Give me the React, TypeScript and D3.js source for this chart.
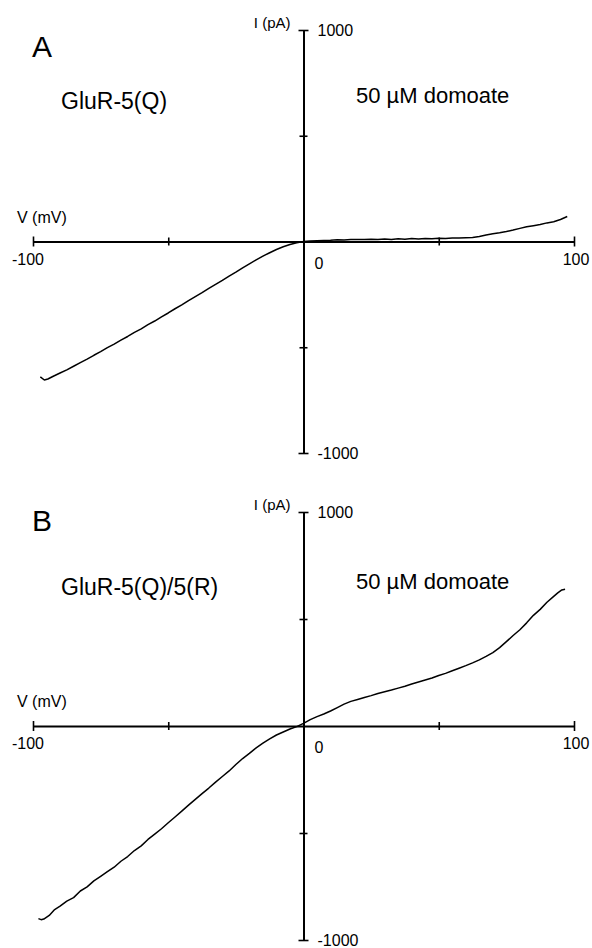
import React, { useEffect, useRef } from "react";
import * as d3 from "d3";

// membrane potential (mV) and current (pA)
const voltageA = [
  -97.3, -95.8, -94.5, -92.5, -90, -87.5, -85, -82.5, -80, -77.5, -75, -72.5, -70, -67.5, -65,
  -62.5, -60, -57.5, -55, -52.5, -50, -47.5, -45, -42.5, -40, -37.5, -35, -32.5, -30, -27.5,
  -25, -22.5, -20, -17.5, -15, -12.5, -10, -7.5, -5, -2.5, 0, 2.5, 5, 7.5, 10, 12.5, 15, 17.5,
  20, 22.5, 25, 27.5, 30, 32.5, 35, 37.5, 40, 42.5, 45, 47.5, 50, 52.5, 55, 57.5, 60, 62.5, 65,
  67.5, 70, 72.5, 75, 77.5, 80, 82.5, 85, 87.5, 90, 92.5, 95, 97.5,
];
const currentA = [
  -640, -655, -650, -637, -622, -607, -590, -573, -556, -538, -521, -502, -485, -466, -449,
  -430, -413, -393, -376, -356, -338, -318, -300, -280, -261, -242, -222, -203, -184, -164,
  -145, -125, -106, -87, -69, -53, -38, -25, -14, -6, 0, 2, 4, 5, 6, 8, 7, 9,
  10, 9, 11, 10, 12, 10, 13, 11, 14, 12, 14, 13, 15, 14, 16, 17, 18, 19, 24,
  31, 37, 41, 47, 54, 62, 70, 75, 80, 88, 93, 104, 118,
];

const voltageB = [
  -98, -97, -96, -94, -92, -90, -87.5, -85, -82.5, -80, -77.5, -75, -72.5, -70, -67.5, -65,
  -62.5, -60, -57.5, -55, -52.5, -50, -47.5, -45, -42.5, -40, -37.5, -35, -32.5, -30, -27.5,
  -25, -22.5, -20, -17.5, -15, -12.5, -10, -7.5, -5, -2.5, 0, 2.5, 5, 7.5, 10, 12.5, 15, 17.5,
  20, 22.5, 25, 27.5, 30, 32.5, 35, 37.5, 40, 42.5, 45, 47.5, 50, 52.5, 55, 57.5, 60, 62.5, 65,
  67.5, 70, 72.5, 75, 77.5, 80, 82.5, 85, 87.5, 90, 92.5, 94, 95.5, 96.7,
];
const currentB = [
  -900, -905, -902, -885, -858, -842, -818, -802, -771, -752, -724, -703, -681, -660, -632, -610,
  -582, -560, -530, -505, -480, -452, -425, -398, -370, -343, -316, -290, -262, -236, -210,
  -180, -152, -128, -102, -80, -60, -42, -28, -14, -3, 12, 30, 44, 56, 70, 86, 102, 115,
  124, 133, 142, 152, 160, 168, 177, 186, 196, 206, 215, 224, 236, 246, 258, 270, 282, 295, 309,
  325, 343, 366, 394, 423, 450, 482, 517, 545, 578, 606, 622, 636, 639,
];

const vTicks = [-100, -50, 50, 100];
const iTicks = [-1000, -500, 500, 1000];
const vLabels = [-100, 0, 100];
const iLabels = [1000, -1000];

const FONT = "'Liberation Sans', Arial, Helvetica, sans-serif";

const panels = [
  { letter: "A", construct: "GluR-5(Q)", yRange: [453, 30], v: voltageA, i: currentA, letterDy: 27, textDy: 0 },
  { letter: "B", construct: "GluR-5(Q)/5(R)", yRange: [940, 512], v: voltageB, i: currentB, letterDy: 19, textDy: 4 },
];

const App = () => {
  const svgRef = useRef<SVGSVGElement>(null);

  useEffect(() => {
    const svg = d3.select(svgRef.current);
    svg.selectAll("*").remove();

    const x = d3.scaleLinear().domain([-100, 100]).range([33, 574]);

    panels.forEach((p) => {
      const y = d3.scaleLinear().domain([-1000, 1000]).range(p.yRange);
      const g = svg.append("g").attr("font-family", FONT).attr("fill", "#000");
      const x0 = x(0);
      const y0 = y(0);
      const top = y(1000);

      // V axis, ticks crossing the line
      const xAxis = g
        .append("g")
        .attr("transform", `translate(0,${y0})`)
        .call(d3.axisBottom(x).tickValues(vTicks).tickSize(0).tickSizeOuter(0).tickFormat(() => ""));
      xAxis.select(".domain").attr("stroke", "#000").attr("stroke-width", 2);
      xAxis
        .selectAll<SVGLineElement, number>(".tick line")
        .attr("stroke", "#000")
        .attr("stroke-width", 1.6)
        .attr("y1", (d) => (Math.abs(d) === 100 ? -5 : -4))
        .attr("y2", (d) => (Math.abs(d) === 100 ? 5 : 4));

      // I axis
      const yAxis = g
        .append("g")
        .attr("transform", `translate(${x0},0)`)
        .call(d3.axisRight(y).tickValues(iTicks).tickSize(0).tickSizeOuter(0).tickFormat(() => ""));
      yAxis.select(".domain").attr("stroke", "#000").attr("stroke-width", 2);
      yAxis
        .selectAll<SVGLineElement, number>(".tick line")
        .attr("stroke", "#000")
        .attr("stroke-width", 1.6)
        .attr("x1", (d) => (Math.abs(d) === 1000 ? -5 : -4))
        .attr("x2", (d) => (Math.abs(d) === 1000 ? 5 : 4));

      // tick labels
      g.selectAll(".vlab")
        .data(vLabels)
        .join("text")
        .attr("font-size", 16)
        .attr("x", (d) => (d === 0 ? x0 + 11 : x(d) + (d < 0 ? -5 : 2)))
        .attr("y", (d) => (d === 0 ? y0 + 27 : y0 + 23))
        .attr("text-anchor", (d) => (d === 0 ? "start" : "middle"))
        .text((d) => String(d));

      g.selectAll(".ilab")
        .data(iLabels)
        .join("text")
        .attr("font-size", 16)
        .attr("x", x0 + 14)
        .attr("y", (d) => y(d))
        .attr("dominant-baseline", "central")
        .text((d) => String(d));

      // axis titles
      g.append("text").attr("font-size", 15).attr("x", x0 - 13).attr("y", top - 2)
        .attr("text-anchor", "end").text("I (pA)");
      g.append("text").attr("font-size", 16).attr("x", 17).attr("y", y0 - 19).text("V (mV)");

      // panel letter and annotations
      g.append("text").attr("font-size", 30).attr("x", 32).attr("y", top + p.letterDy).text(p.letter);
      g.append("text").attr("font-size", 23).attr("x", 61).attr("y", top + 79 + p.textDy).text(p.construct);
      g.append("text").attr("font-size", 22).attr("x", 356).attr("y", top + 73 + p.textDy).text("50 \u00b5M domoate");

      // I-V trace
      const line = d3
        .line<number>()
        .x((_, k) => x(p.v[k]))
        .y((d) => y(d));
      g.append("path")
        .datum(p.i)
        .attr("fill", "none")
        .attr("stroke", "#000")
        .attr("stroke-width", 1.5)
        .attr("stroke-linejoin", "round")
        .attr("d", line);
    });
  }, []);

  return (
    <svg
      ref={svgRef}
      width={592}
      height={948}
      style={{ position: "absolute", left: 0, top: 0, background: "#fff" }}
    ></svg>
  );
};

export default App;
